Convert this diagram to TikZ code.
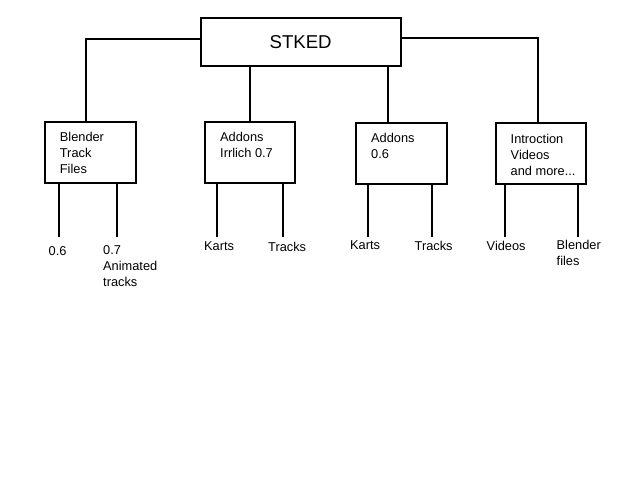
\documentclass[tikz,border=0pt]{standalone}
\usepackage{fontspec}
\setmainfont{Liberation Sans}
\begin{document}
\begin{tikzpicture}[x=1pt,y=-1pt,
  box/.style={draw=black,line width=2pt,inner sep=0pt,minimum width=90.5pt,minimum height=61pt},
  topbox/.style={draw=black,line width=2pt,inner sep=0pt,minimum width=200pt,minimum height=48pt,font=\fontsize{18.6}{22}\selectfont},
  txt/.style={inner sep=0pt,anchor=base west,font=\fontsize{12.8}{16}\selectfont},
  link/.style={draw=black,line width=2pt}]
\fill[white] (0,0) rectangle (640,480);
\useasboundingbox (0,0) rectangle (640,480);
% top box
\node[topbox] (stked) at (300.6,41.7) {STKED};
% second-level boxes
\node[box] (b1) at (90.25,152.5) {};
\node[box] (b2) at (249.85,152.5) {};
\node[box] (b3) at (401.25,153.65) {};
\node[box] (b4) at (540.85,153.85) {};
\node[txt] (t1) at (59.7,141.3) {\begin{tabular}[t]{@{}l@{}}Blender\\Track\\Files\end{tabular}};
\node[txt] (t2) at (220,141.3) {\begin{tabular}[t]{@{}l@{}}Addons\\Irrlich 0.7\end{tabular}};
\node[txt] (t3) at (371,142.3) {\begin{tabular}[t]{@{}l@{}}Addons\\0.6\end{tabular}};
\node[txt] (t4) at (510.5,143) {\begin{tabular}[t]{@{}l@{}}Introction\\Videos\\and more...\end{tabular}};
% connectors from the top box
\coordinate (k1) at (86,39.3);
\coordinate (k2) at (538,37.7);
\coordinate (k3) at (388,60);
\draw[link] (k1 -| stked.west) -| (k1 |- b1.north);
\draw[link] (k2 -| stked.east) -| (k2 |- b4.north);
\draw[link] (b2.north |- stked.south) -- (b2.north);
\draw[link] (k3 |- stked.south) -- (k3 |- b3.north);
% leaf ends
\coordinate (e1) at (59.4,236.7);
\coordinate (e2) at (116.8,236.7);
\coordinate (e3) at (217.2,236.7);
\coordinate (e4) at (282.8,236.7);
\coordinate (e5) at (367.6,236.7);
\coordinate (e6) at (432.4,236.7);
\coordinate (e7) at (505,236.7);
\coordinate (e8) at (578,236.7);
\draw[link] (e1 |- b1.south) -- (e1);
\draw[link] (e2 |- b1.south) -- (e2);
\draw[link] (e3 |- b2.south) -- (e3);
\draw[link] (e4 |- b2.south) -- (e4);
\draw[link] (e5 |- b3.south) -- (e5);
\draw[link] (e6 |- b3.south) -- (e6);
\draw[link] (e7 |- b4.south) -- (e7);
\draw[link] (e8 |- b4.south) -- (e8);
% leaf labels
\node[txt] (l1) at (48.5,255.6) {0.6};
\node[txt] (l2) at (103,254) {\begin{tabular}[t]{@{}l@{}}0.7\\Animated\\tracks\end{tabular}};
\node[txt] (l3) at (204,250.3) {Karts};
\node[txt] (l4) at (268,251.3) {Tracks};
\node[txt] (l5) at (350,249) {Karts};
\node[txt] (l6) at (414.5,250.3) {Tracks};
\node[txt] (l7) at (486.5,250.3) {Videos};
\node[txt] (l8) at (556.5,249) {\begin{tabular}[t]{@{}l@{}}Blender\\files\end{tabular}};
\end{tikzpicture}
\end{document}
